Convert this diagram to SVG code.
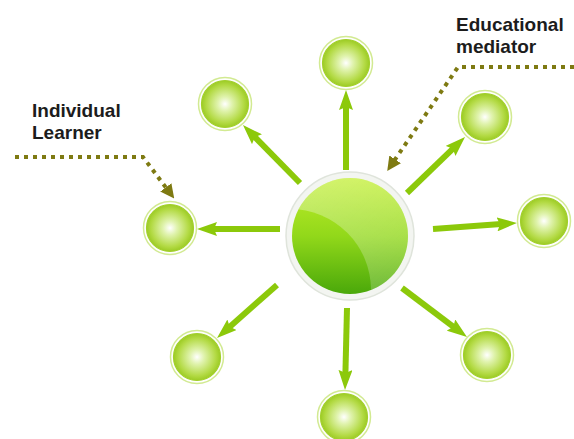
<svg xmlns="http://www.w3.org/2000/svg" width="574" height="439" viewBox="0 0 574 439">
<style>
.lbl{font-family:"Liberation Sans",Arial,sans-serif;font-weight:bold;font-size:19px;fill:#1c1c1c}
.arr{stroke:#8cc90a;stroke-width:6;fill:none;marker-end:url(#ah)}
.dot{stroke:#7e7a12;stroke-width:4;stroke-dasharray:4 5;fill:none;marker-end:url(#dh)}
.halo{fill:#fff;stroke:#d2ea92;stroke-width:1.5}
.ball{fill:url(#sg);stroke:#a2cf2c;stroke-width:1.2}
</style>
<defs>
<radialGradient id="sg" cx="0.5" cy="0.5" r="0.5">
<stop offset="0" stop-color="#ffffff"/>
<stop offset="0.3" stop-color="#e0f3ae"/>
<stop offset="0.8" stop-color="#b3da44"/>
<stop offset="1" stop-color="#9ccb24"/>
</radialGradient>
<linearGradient id="cg" x1="0" y1="0" x2="0" y2="1">
<stop offset="0" stop-color="#c0ee2a"/>
<stop offset="0.5" stop-color="#92d81a"/>
<stop offset="1" stop-color="#4aa80a"/>
</linearGradient>
<linearGradient id="shine" x1="0" y1="0" x2="1" y2="1">
<stop offset="0" stop-color="#ffffff" stop-opacity="0.35"/>
<stop offset="1" stop-color="#ffffff" stop-opacity="0.15"/>
</linearGradient>
<clipPath id="cc"><circle cx="350" cy="236" r="58"/></clipPath>
<mask id="cm"><rect x="280" y="170" width="140" height="140" fill="#fff"/><circle cx="290" cy="290" r="81" fill="#000"/></mask>
<marker id="ah" viewBox="0 0 20 14" refX="4" refY="7" markerWidth="20" markerHeight="14" markerUnits="userSpaceOnUse" orient="auto">
<path d="M0,0 L20,7 L0,14 L3,7 z" fill="#8cc90a"/>
</marker>
<marker id="dh" viewBox="0 0 14 14" refX="2" refY="7" markerWidth="14" markerHeight="14" markerUnits="userSpaceOnUse" orient="auto">
<path d="M0,0 L14,7 L0,14 z" fill="#7e7a12"/>
</marker>
</defs>

<g id="connectors">
<line class="arr" x1="346" y1="170" x2="346" y2="106"/>
<line class="arr" x1="300" y1="183" x2="254.2" y2="136.4"/>
<line class="arr" x1="407" y1="193" x2="453.5" y2="148.1"/>
<line class="arr" x1="433" y1="229" x2="501" y2="224.1"/>
<line class="arr" x1="402" y1="288" x2="454.2" y2="327.4"/>
<line class="arr" x1="347" y1="308" x2="345.4" y2="374"/>
<line class="arr" x1="277" y1="285" x2="229" y2="327.4"/>
<line class="arr" x1="280" y1="229" x2="213" y2="229"/>
<path class="dot" d="M15,157 L143,157 L167,189"/>
<path class="dot" d="M574,67 L458,67 L394,161"/>
</g>

<g id="center">
<circle cx="350" cy="236" r="64" fill="#f3f5f1" stroke="#dfe4db" stroke-width="1.5"/>
<circle cx="350" cy="236" r="58" fill="url(#cg)"/>
<g clip-path="url(#cc)"><rect x="280" y="170" width="140" height="140" fill="url(#shine)" mask="url(#cm)"/></g>
</g>

<g id="n-top"><circle class="halo" cx="346" cy="63" r="26.5"/><circle class="ball" cx="346" cy="63" r="23.5"/></g>
<g id="n-ul"><circle class="halo" cx="225" cy="104" r="26.5"/><circle class="ball" cx="225" cy="104" r="23.5"/></g>
<g id="n-ur"><circle class="halo" cx="485" cy="117" r="26.5"/><circle class="ball" cx="485" cy="117" r="23.5"/></g>
<g id="n-r"><circle class="halo" cx="544" cy="221" r="26.5"/><circle class="ball" cx="544" cy="221" r="23.5"/></g>
<g id="n-lr"><circle class="halo" cx="487" cy="355" r="26.5"/><circle class="ball" cx="487" cy="355" r="23.5"/></g>
<g id="n-b"><circle class="halo" cx="344" cy="417" r="26.5"/><circle class="ball" cx="344" cy="417" r="23.5"/></g>
<g id="n-ll"><circle class="halo" cx="197" cy="357" r="26.5"/><circle class="ball" cx="197" cy="357" r="23.5"/></g>
<g id="n-l"><circle class="halo" cx="170" cy="228" r="26.5"/><circle class="ball" cx="170" cy="228" r="23.5"/></g>

<g id="label-learner">
<text class="lbl" x="32" y="117">Individual</text>
<text class="lbl" x="32" y="139">Learner</text>
</g>
<g id="label-mediator">
<text class="lbl" x="456" y="31">Educational</text>
<text class="lbl" x="456" y="53">mediator</text>
</g>
</svg>
